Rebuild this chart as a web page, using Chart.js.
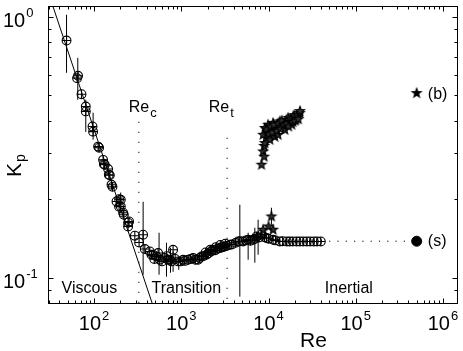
<!DOCTYPE html>
<html><head><meta charset="utf-8">
<script src="https://cdn.jsdelivr.net/npm/chart.js@4.4.1/dist/chart.umd.min.js"></script>
<style>html,body{margin:0;padding:0;background:#fff;overflow:hidden}</style>
</head><body>
<canvas id="c" width="463" height="351"></canvas>
<script>
// ---------- data ----------
// (s) series: circle-plus markers
const sRe = [48.3,63.8,65.5,71.7,80.3,80.3,95.9,97.4,111.2,114.1,126.8,129.2,132.7,144.8,147.4,151.4,158.3,162.6,
  180.6,193.5,202.4,193.5,202.4,215.1,219.1,245.4,252.0,245.4,292.9,328.1,364.8,381.5,435.3,455.3,474.9,490,519.5,542,567,
  600,647,680,706,740,772,805,850,919,980,1049,1100,1197,1280,1366,1450,1558,1630,1705,1800,1900,1945,2050,2150,2200,2316,
  2450,2500,2600,2763,2800,2900,3000,3153,3200,3350,3598,3800,4200,4482,4700,5113,5500,5834,6200,6658,7000,7283,7800,8310,
  9000,9484,10000,11290,12000,13480,14500,16220,17500,19000,21000,22860,25000,27500,30000,33080,36000,39790];
const sKp = [0.811,0.582,0.594,0.505,0.453,0.434,0.380,0.363,0.318,0.315,0.283,0.273,0.271,0.261,0.248,0.247,0.227,0.223,
  0.196,0.200,0.199,0.187,0.1875,0.1775,0.1743,0.1625,0.1643,0.1572,0.1449,0.1365,0.1462,0.1288,0.1261,0.1225,0.1225,0.118,0.1207,0.1243,0.1172,
  0.1155,0.119,0.121,0.1172,0.1172,0.1155,0.128,0.118,0.1155,0.1155,0.1172,0.116,0.1172,0.118,0.119,0.1172,0.1172,0.119,0.1207,0.121,0.125,0.1225,0.124,0.128,0.126,0.128,
  0.1275,0.131,0.129,0.130,0.1335,0.1305,0.131,0.1318,0.135,0.1325,0.1338,0.134,0.136,0.1377,0.138,0.1377,0.139,0.1398,0.1385,0.1398,0.141,0.1439,0.1425,0.1462,
  0.143,0.142,0.141,0.1398,0.139,0.1377,0.138,0.1377,0.1377,0.1377,0.1377,0.1377,0.1377,0.1377,0.1377,0.1377,0.1377,0.1377];
// (b) series: star markers
const bRe = [8310,8670,8910,8910,9070,9360,8670,9070,9765,9895,10350,10850,11290,11810,12130,12880,13480,14590,15380,16090,17550,18500,19150,20560,21110,22860,
  9500,10200,10600,11000,11500,12500,13000,13800,14200,15000,16000,16800,17000,18000,19000,19800,20000,21500,22000,23000,
  8670,10800,11290,10000];
const bKp = [0.271,0.3047,0.291,0.320,0.328,0.344,0.353,0.3747,0.3626,0.3857,0.338,0.3723,0.3915,0.347,0.379,0.353,0.397,0.389,0.369,0.403,0.396,0.386,0.415,0.403,0.410,0.4276,
  0.370,0.355,0.380,0.360,0.385,0.365,0.390,0.372,0.400,0.385,0.390,0.410,0.380,0.405,0.395,0.420,0.400,0.420,0.405,0.435,
  0.1527,0.1717,0.1527,0.1572];
// isolated points at Re = 5e5
const sIsoRe = [5e5], sIsoKp = [0.138];
const bIsoRe = [5e5], bIsoKp = [0.51];
// dotted continuation of (s)
const sTailRe = [39790, 5e5], sTailKp = [0.138, 0.138];
// error bars
const errRe = [48.3,65.0,80.3,97.4,202,365,556,676,752,805,935,4690,5840,6970,7600,10800];
const errLo = [0.610,0.481,0.362,0.338,0.182,0.1027,0.1027,0.1009,0.1045,0.1054,0.1073,0.0846,0.1172,0.1142,0.1225,0.1596];
const errHi = [1.018,0.696,0.481,0.429,0.212,0.1955,0.1487,0.1362,0.1303,0.1258,0.1193,0.1904,0.1487,0.1554,0.1668,0.1854];
// viscous law line
const viscRe = [30, 500], viscKp = [1.233, 0.074];
// critical Reynolds numbers (vertical dotted lines)
const critRe = [326, 3350];
const critTop = [0.396, 0.344];
const critBottom = [0.08, 0.08];
// ticks
const xTickExps = [2,3,4,5,6];
const yTickExps = [-1,0];
const xRange = [30, 1.45e6], yRange = [0.08, 1.1];
// annotations
const annoMain = ['Viscous','Transition','Inertial','Re','Re','(b)','(s)'];
const annoSub  = ['','','','c','t','',''];
const annoRe   = [42.3, 455, 44230, 250, 2067, 6.71e5, 6.71e5];
const annoKp   = [0.0874, 0.0874, 0.0874, 0.4325, 0.4325, 0.485, 0.1326];

// ---------- styles ----------
const FONT = '"Liberation Sans", Arial, Helvetica, sans-serif';
function makeStar(r, fill) {
  const s = Math.ceil(r * 2 + 4);
  const c = document.createElement('canvas'); c.width = s; c.height = s;
  const g = c.getContext('2d');
  g.translate(s / 2, s / 2);
  g.beginPath();
  for (let i = 0; i < 10; i++) {
    const rr = i % 2 ? r * 0.42 : r;
    const a = -Math.PI / 2 + i * Math.PI / 5;
    g.lineTo(rr * Math.cos(a), rr * Math.sin(a));
  }
  g.closePath();
  g.fillStyle = fill; g.fill();
  g.lineWidth = 1.1; g.strokeStyle = '#000'; g.stroke();
  return c;
}
const starImg = makeStar(4.8, '#333');
const starSolid = makeStar(4.8, '#000');

const pts = (xs, ys) => xs.map((v, i) => ({x: v, y: ys[i]}));
const lineDs = (data, extra) => Object.assign({
  data, showLine: true, pointRadius: 0, borderColor: '#000', borderWidth: 1, fill: false, tension: 0
}, extra);

const datasets = [];
errRe.forEach((r, i) => datasets.push(lineDs(pts([r, r], [errLo[i], errHi[i]]), {order: 5})));
datasets.push(lineDs(pts(viscRe, viscKp), {order: 5}));
critRe.forEach((r, i) => datasets.push(lineDs(pts([r, r], [critTop[i], critBottom[i]]), {borderDash: [1.2, 8.8], order: 5})));
datasets.push(lineDs(pts(sTailRe, sTailKp), {borderDash: [1.2, 7.1], order: 5}));
datasets.push({data: pts(sRe, sKp), pointStyle: 'circle', pointRadius: 4.4, pointBorderWidth: 1.1,
  pointBorderColor: '#000', pointBackgroundColor: 'rgba(0,0,0,0)', showLine: false, order: 2});
datasets.push({data: pts(sRe, sKp), pointStyle: 'cross', pointRadius: 4.4, pointBorderWidth: 1.1,
  pointBorderColor: '#000', showLine: false, order: 1});
datasets.push({data: pts(bRe, bKp), pointStyle: starImg, showLine: false, order: 1});
datasets.push({data: pts(sIsoRe, sIsoKp), pointStyle: 'circle', pointRadius: 5, pointBorderWidth: 1,
  pointBorderColor: '#000', pointBackgroundColor: '#000', showLine: false, order: 1});
datasets.push({data: pts(bIsoRe, bIsoKp), pointStyle: starSolid, showLine: false, order: 1});

function drawPow(ctx, exp, x, y, center) {
  ctx.font = '20px ' + FONT;
  const wb = ctx.measureText('10').width;
  ctx.font = '13px ' + FONT;
  const we = ctx.measureText(String(exp)).width;
  const gap = 1;
  const left = center ? x - (wb + gap + we) / 2 : x;
  ctx.font = '20px ' + FONT;
  ctx.fillText('10', left, y);
  ctx.font = '13px ' + FONT;
  ctx.fillText(String(exp), left + wb + gap, y - 10);
}

const framePlugin = {
  id: 'frame',
  afterDraw(chart) {
    const {ctx, chartArea: a, scales: {x, y}} = chart;
    ctx.save();
    ctx.strokeStyle = '#000'; ctx.fillStyle = '#000'; ctx.lineWidth = 1;
    const L = Math.floor(a.left) + 0.5, R = Math.floor(a.right) + 0.5;
    const T = Math.floor(a.top) + 0.5, B = Math.floor(a.bottom) + 0.5;
    ctx.strokeRect(L, T, R - L, B - T);
    ctx.beginPath();
    for (let e = 1; e <= 6; e++) {
      for (let m = 1; m <= 9; m++) {
        const v = m * Math.pow(10, e);
        if (v < xRange[0] || v > xRange[1]) continue;
        const px = Math.round(x.getPixelForValue(v)) + 0.5;
        const len = m === 1 ? 5 : 3;
        ctx.moveTo(px, B); ctx.lineTo(px, B - len);
        ctx.moveTo(px, T); ctx.lineTo(px, T + len);
      }
    }
    for (let e = -2; e <= 0; e++) {
      for (let m = 1; m <= 9; m++) {
        const v = m * Math.pow(10, e);
        if (v < yRange[0] - 1e-9 || v > yRange[1]) continue;
        const py = Math.round(y.getPixelForValue(v)) + 0.5;
        const len = m === 1 ? 5 : 3;
        ctx.moveTo(L, py); ctx.lineTo(L + len, py);
        ctx.moveTo(R, py); ctx.lineTo(R - len, py);
      }
    }
    ctx.stroke();
    ctx.textBaseline = 'alphabetic'; ctx.textAlign = 'left';
    xTickExps.forEach(n => drawPow(ctx, n, x.getPixelForValue(Math.pow(10, n)), a.bottom + 27, true));
    yTickExps.forEach(n => drawPow(ctx, n, 3, y.getPixelForValue(Math.pow(10, n)) + 10, false));
    // axis titles
    ctx.font = '21px ' + FONT;
    ctx.fillText('Re', 300, 347);
    ctx.save();
    ctx.translate(21, 177);
    ctx.rotate(-Math.PI / 2);
    ctx.font = '21px ' + FONT;
    ctx.fillText('K', 0, 0);
    const wk = ctx.measureText('K').width;
    ctx.font = '14px ' + FONT;
    ctx.fillText('p', wk + 1, 4);
    ctx.restore();
    // annotations
    annoMain.forEach((t, i) => {
      const px = x.getPixelForValue(annoRe[i]), py = y.getPixelForValue(annoKp[i]);
      ctx.font = '16px ' + FONT;
      ctx.fillText(t, px, py);
      if (annoSub[i]) {
        const w = ctx.measureText(t).width;
        ctx.font = '13px ' + FONT;
        ctx.fillText(annoSub[i], px + w + 1, py + 5);
      }
    });
    ctx.restore();
  }
};

new Chart(document.getElementById('c'), {
  type: 'scatter',
  data: {datasets},
  options: {
    responsive: false, animation: false, devicePixelRatio: 1,
    layout: {padding: {left: 48.5, right: 6, top: 5.3, bottom: 48}},
    scales: {
      x: {type: 'logarithmic', min: xRange[0], max: xRange[1], display: false},
      y: {type: 'logarithmic', min: yRange[0], max: yRange[1], display: false}
    },
    plugins: {legend: {display: false}, tooltip: {enabled: false}}
  },
  plugins: [framePlugin]
});
</script>
</body></html>
